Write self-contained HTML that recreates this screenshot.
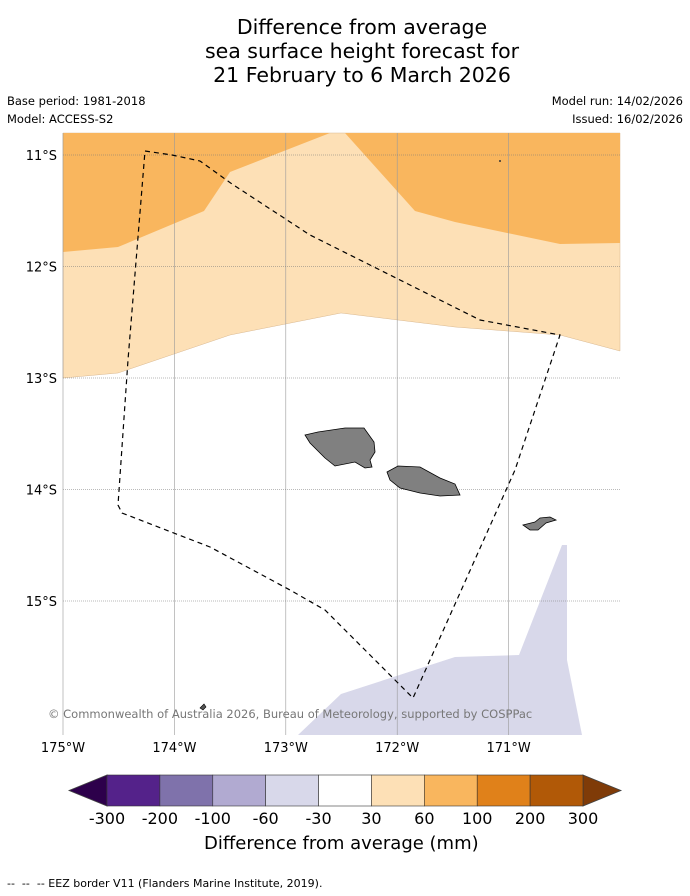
<!DOCTYPE html>
<html><head><meta charset="utf-8">
<style>
body{margin:0;background:#fff;font-family:"DejaVu Sans","Liberation Sans",sans-serif;}
#wrap{position:relative;width:690px;height:896px;overflow:hidden;}
.t{position:absolute;white-space:nowrap;color:#000;}
</style></head><body>
<div id="wrap">
<div class="t" style="left:0;width:724px;top:15px;text-align:center;font-size:20.5px;line-height:24px;">Difference from average<br>sea surface height forecast for<br>21 February to 6 March 2026</div>
<div class="t" style="left:7px;top:94px;font-size:11.5px;">Base period: 1981-2018</div>
<div class="t" style="left:7px;top:112px;font-size:11.5px;">Model: ACCESS-S2</div>
<div class="t" style="right:7px;top:94px;font-size:11.5px;">Model run: 14/02/2026</div>
<div class="t" style="right:7px;top:112px;font-size:11.5px;">Issued: 16/02/2026</div>
<svg id="map" width="690" height="896" style="position:absolute;left:0;top:0"></svg>
<div class="t" style="left:204px;top:833px;font-size:18px;">Difference from average (mm)</div>
<div class="t" style="left:7px;top:877px;font-size:11px;">--&nbsp; --&nbsp; -- EEZ border V11 (Flanders Marine Institute, 2019).</div>
</div>
<script>
const lonTicks=[-175,-174,-173,-172,-171];
const latTicks=[-11,-12,-13,-14,-15];
const cbLabels=["-300","-200","-100","-60","-30","30","60","100","200","300"];
const cbColors=["#54228a","#7f72ab","#b1aad1","#d8d8ea","#ffffff","#fde0b6","#f9b65e","#e0811a","#b15907"];
const X0=63,X1=620,Y0=133,Y1=735;
const FF='DejaVu Sans, Liberation Sans, sans-serif';
function x(lon){return 63+(lon+175)*111.4;}
function y(lat){return 155+(-11-lat)*111.5;}
const NS="http://www.w3.org/2000/svg";
const svg=document.getElementById('map');
function add(tag,attrs,name,parent){const e=document.createElementNS(NS,tag);for(const k in attrs)e.setAttribute(k,attrs[k]);


(parent||svg).appendChild(e);return e;}
function pts(a){return a.map(p=>p.join(',')).join(' ');}
add('rect',{x:X0,y:Y0,width:X1-X0,height:Y1-Y0,fill:'#fff'},'map-background');
add('polygon',{points:pts([[63,133],[620,133],[620,351],[560,335],[455,327],[341,313],[230,335],[118,373],[63,378]]),fill:'#fde0b6',stroke:'#d9b890','stroke-width':0.5},'contour-30-60');
add('polygon',{points:pts([[63,133],[330,133],[230,172],[204,211],[118,247],[63,252]]),fill:'#f9b65e'},'contour-60-100-west');
add('polygon',{points:pts([[345,133],[620,133],[620,243],[560,244],[455,222],[415,211]]),fill:'#f9b65e'},'contour-60-100-east');
add('polygon',{points:pts([[298,735],[341,694],[455,657],[519,655],[562,545],[567,545],[567,660],[582,735]]),fill:'#d8d8ea'},'contour-neg30-neg60');
lonTicks.forEach(l=>{if(l>-175)add('line',{x1:x(l),x2:x(l),y1:Y0,y2:Y1,stroke:'#999','stroke-width':0.6},'lon-gridline');
const t=add('text',{x:x(l),y:752,'text-anchor':'middle','font-size':13,'font-family':FF},'lon-tick-label');t.textContent=Math.abs(l)+'°W';});
latTicks.forEach(l=>{add('line',{x1:X0,x2:X1,y1:y(l),y2:y(l),stroke:'#777','stroke-width':0.6,'stroke-dasharray':'1,1'},'lat-gridline');
const t=add('text',{x:57,y:y(l)+5,'text-anchor':'end','font-size':13,'font-family':FF},'lat-tick-label');t.textContent=Math.abs(l)+'°S';});
add('line',{x1:X0,x2:X0,y1:Y0,y2:Y1,stroke:'#999','stroke-width':0.6},'map-left-edge');
add('polygon',{points:pts([[305,435],[318,432],[345,428],[364,428],[374,442],[375,452],[370,460],[372,467],[365,468],[355,462],[335,466],[325,458],[310,443]]),fill:'#808080',stroke:'#000','stroke-width':0.8},'savaii-island');
add('polygon',{points:pts([[387,472],[398,466],[420,467],[440,478],[455,484],[460,495],[440,496],[420,493],[400,488],[390,480]]),fill:'#808080',stroke:'#000','stroke-width':0.8},'upolu-island');
add('polygon',{points:pts([[523,525],[535,522],[540,518],[550,517],[556,520],[546,523],[538,530],[530,530]]),fill:'#808080',stroke:'#000','stroke-width':0.8},'tutuila-island');
add('polygon',{points:pts([[200,708],[204,704],[206,707],[203,710]]),fill:'#555',stroke:'#000','stroke-width':0.6},'small-island');
add('circle',{cx:500,cy:161,r:1,fill:'#333'},'small-island');
add('polyline',{points:pts([[145,151],[172,155],[200,161],[232,184],[310,235],[390,275],[480,320],[560,335],[515,470],[430,660],[413,698],[395,680],[325,610],[290,590],[210,547],[122,513],[118,505],[128,360],[145,151]]),fill:'none',stroke:'#000','stroke-width':1.2,'stroke-dasharray':'5,4'},'eez-border');
const c=add('text',{x:48,y:718,'font-size':11.5,fill:'#777','font-family':FF},'copyright');c.textContent='© Commonwealth of Australia 2026, Bureau of Meteorology, supported by COSPPac';
const cbX0=107,cbX1=583,cbY=775,cbH=31,w=(cbX1-cbX0)/cbColors.length;
add('polygon',{points:pts([[cbX0,cbY],[69,cbY+cbH/2],[cbX0,cbY+cbH]]),fill:'#2d004b',stroke:'#444','stroke-width':0.8},'colorbar-min-arrow');
add('polygon',{points:pts([[cbX1,cbY],[621,cbY+cbH/2],[cbX1,cbY+cbH]]),fill:'#7f3b08',stroke:'#444','stroke-width':0.8},'colorbar-max-arrow');
cbColors.forEach((col,i)=>add('rect',{x:cbX0+i*w,y:cbY,width:w,height:cbH,fill:col,stroke:'#333','stroke-width':0.6},'colorbar-segment'));
cbLabels.forEach((lb,i)=>{const t=add('text',{x:cbX0+i*w,y:824,'text-anchor':'middle','font-size':16,'font-family':FF},'colorbar-tick-label');t.textContent=lb;});
</script>
</body></html>
